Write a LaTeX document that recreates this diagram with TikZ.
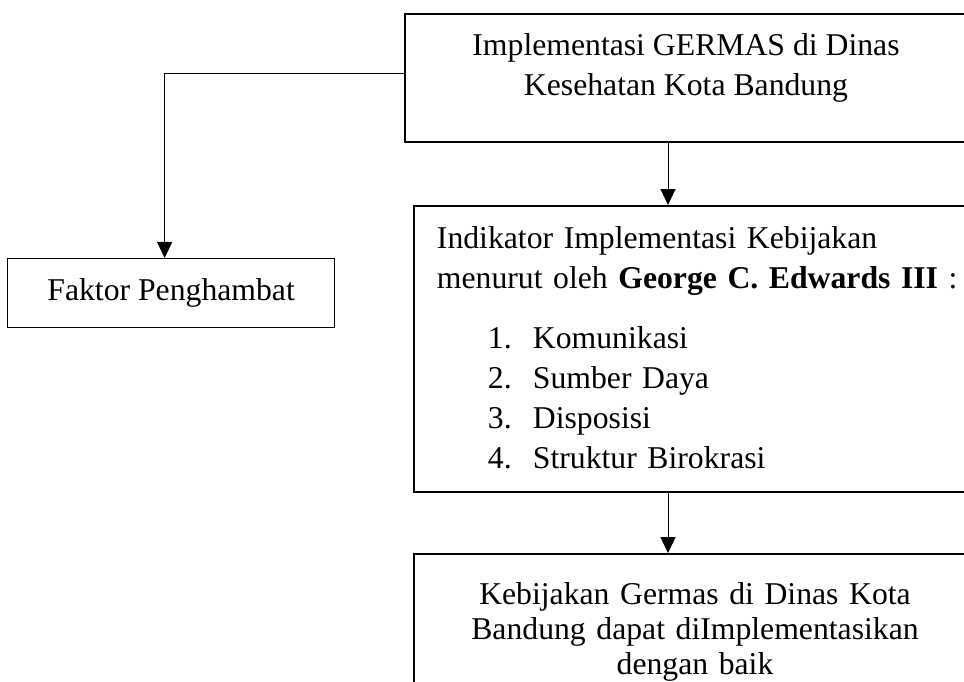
\documentclass[tikz,border=0pt]{standalone}
\usepackage{fontspec}
\setmainfont{Liberation Serif}
\usetikzlibrary{positioning, arrows.meta}
\newcommand{\bodyfont}{\fontsize{22.55pt}{28.45pt}\selectfont}
\tikzset{
  block/.style={draw, line width=1.4pt, inner sep=0pt, font=\bodyfont},
  thinblock/.style={draw, line width=0.8pt, inner sep=0pt, font=\bodyfont},
  flow/.style={-{Triangle[width=0.375cm, length=0.4cm]}, line width=0.7pt},
}

\begin{document}
\begin{tikzpicture}[x=0.025cm, y=-0.025cm]
  \clip (0,0) rectangle (964,682);

  \node[block, anchor=north, minimum width=14.05cm, inner ysep=0.5cm, text depth=0.65cm, align=center] (germas) at (686,13)
    {Implementasi GERMAS di Dinas\\Kesehatan Kota Bandung};
  \node[block, below right=1.55cm and 0.225cm of germas.south west, text width=12.9cm,
        inner xsep=0.575cm, inner ysep=0.5cm, align=left] (indikator)
    {Indikator Implementasi Kebijakan\\
     \mbox{menurut oleh \textbf{George C. Edwards III} :}\\[0.5cm]
     \hspace*{1.275cm}\makebox[1.125cm][l]{1.}Komunikasi\\
     \hspace*{1.275cm}\makebox[1.125cm][l]{2.}Sumber Daya\\
     \hspace*{1.275cm}\makebox[1.125cm][l]{3.}Disposisi\\
     \hspace*{1.275cm}\makebox[1.125cm][l]{4.}Struktur Birokrasi\rule[-0.1cm]{0pt}{0pt}};
  \node[block, below right=1.5cm and 0cm of indikator.south west, text width=12.9cm,
        inner xsep=0.575cm, inner ysep=0.7cm, text depth=3cm, align=center,
        font={\fontsize{22.55pt}{24.9pt}\selectfont}] (hasil)
    {Kebijakan Germas di Dinas Kota\\Bandung dapat diImplementasikan\\dengan baik};

  \node[thinblock, anchor=north west, minimum width=8.175cm, minimum height=1.725cm] (faktor) at (7,258)
    {Faktor Penghambat};

  \coordinate (axis) at (668,0);
  \draw[flow] (germas.south -| axis) -- (indikator.north -| axis);
  \draw[flow] (indikator.south -| axis) -- (hasil.north -| axis);
  \draw[flow] ([yshift=0.125cm]germas.west) -| ([xshift=-0.1625cm]faktor.north);
\end{tikzpicture}
\end{document}
